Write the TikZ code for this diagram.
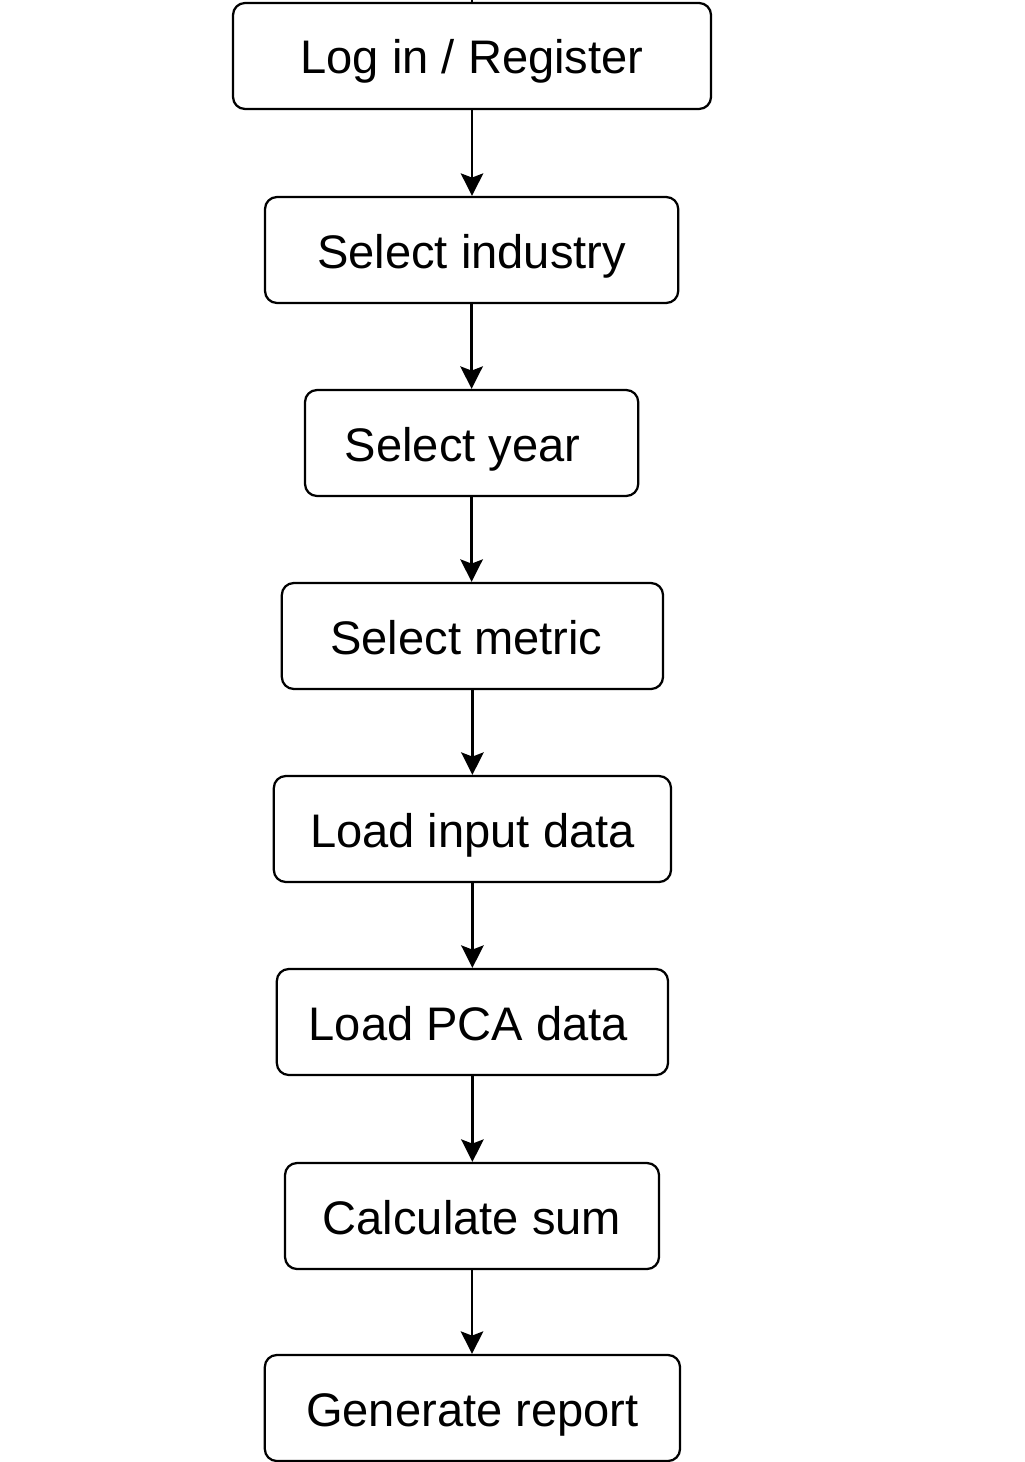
\documentclass[tikz,border=0pt]{standalone}
\usepackage{fontspec}
\setmainfont{Liberation Sans}
\usetikzlibrary{arrows.meta}
\tikzset{
	stepbox/.style={draw, line width=1.6pt, rounded corners=0.3cm, minimum height=2.65cm, inner sep=0pt, text height=1.2cm, text depth=0.3cm, font=\fontsize{33.5}{40}\selectfont},
	flow/.style={line width=1.6pt, -{Stealth[length=16pt, width=16pt, inset=3pt]}}
}

\begin{document}
\begin{tikzpicture}
			%%%%% START %%%%%
			
			\useasboundingbox (0, 0) rectangle (25.6, -36.55);
			
			\coordinate (top) at (11.8, 0);
			
			\node[stepbox, minimum width=11.95cm] (login) at (11.8, -1.4) {Log in / Register};
			\node[stepbox, minimum width=10.33cm] (industry) at (11.79, -6.25) {Select industry};
			\node[stepbox, minimum width=8.33cm] (year) at (11.79, -11.075) {Select year\kern0.45cm};
			\node[stepbox, minimum width=9.53cm] (metric) at (11.81, -15.9) {Select metric\kern0.3cm};
			\node[stepbox, minimum width=9.93cm] (input) at (11.81, -20.725) {Load input data};
			\node[stepbox, minimum width=9.78cm] (pca) at (11.81, -25.55) {Load PCA data\kern0.2cm};
			\node[stepbox, minimum width=9.35cm] (sum) at (11.8, -30.4) {Calculate sum};
			\node[stepbox, minimum width=10.38cm] (report) at (11.81, -35.2) {Generate report};
			
			\draw[line width=1.6pt] (top) -- (login.north);
			
			\draw[flow] (login.south) -- (login.south |- industry.north);
			\draw[flow] (industry.south) -- (industry.south |- year.north);
			\draw[flow] (year.south) -- (year.south |- metric.north);
			\draw[flow] (metric.south) -- (metric.south |- input.north);
			\draw[flow] (input.south) -- (input.south |- pca.north);
			\draw[flow] (pca.south) -- (pca.south |- sum.north);
			\draw[flow] (sum.south) -- (sum.south |- report.north);
			
			%%%%% END %%%%%
		\end{tikzpicture}
\end{document}
